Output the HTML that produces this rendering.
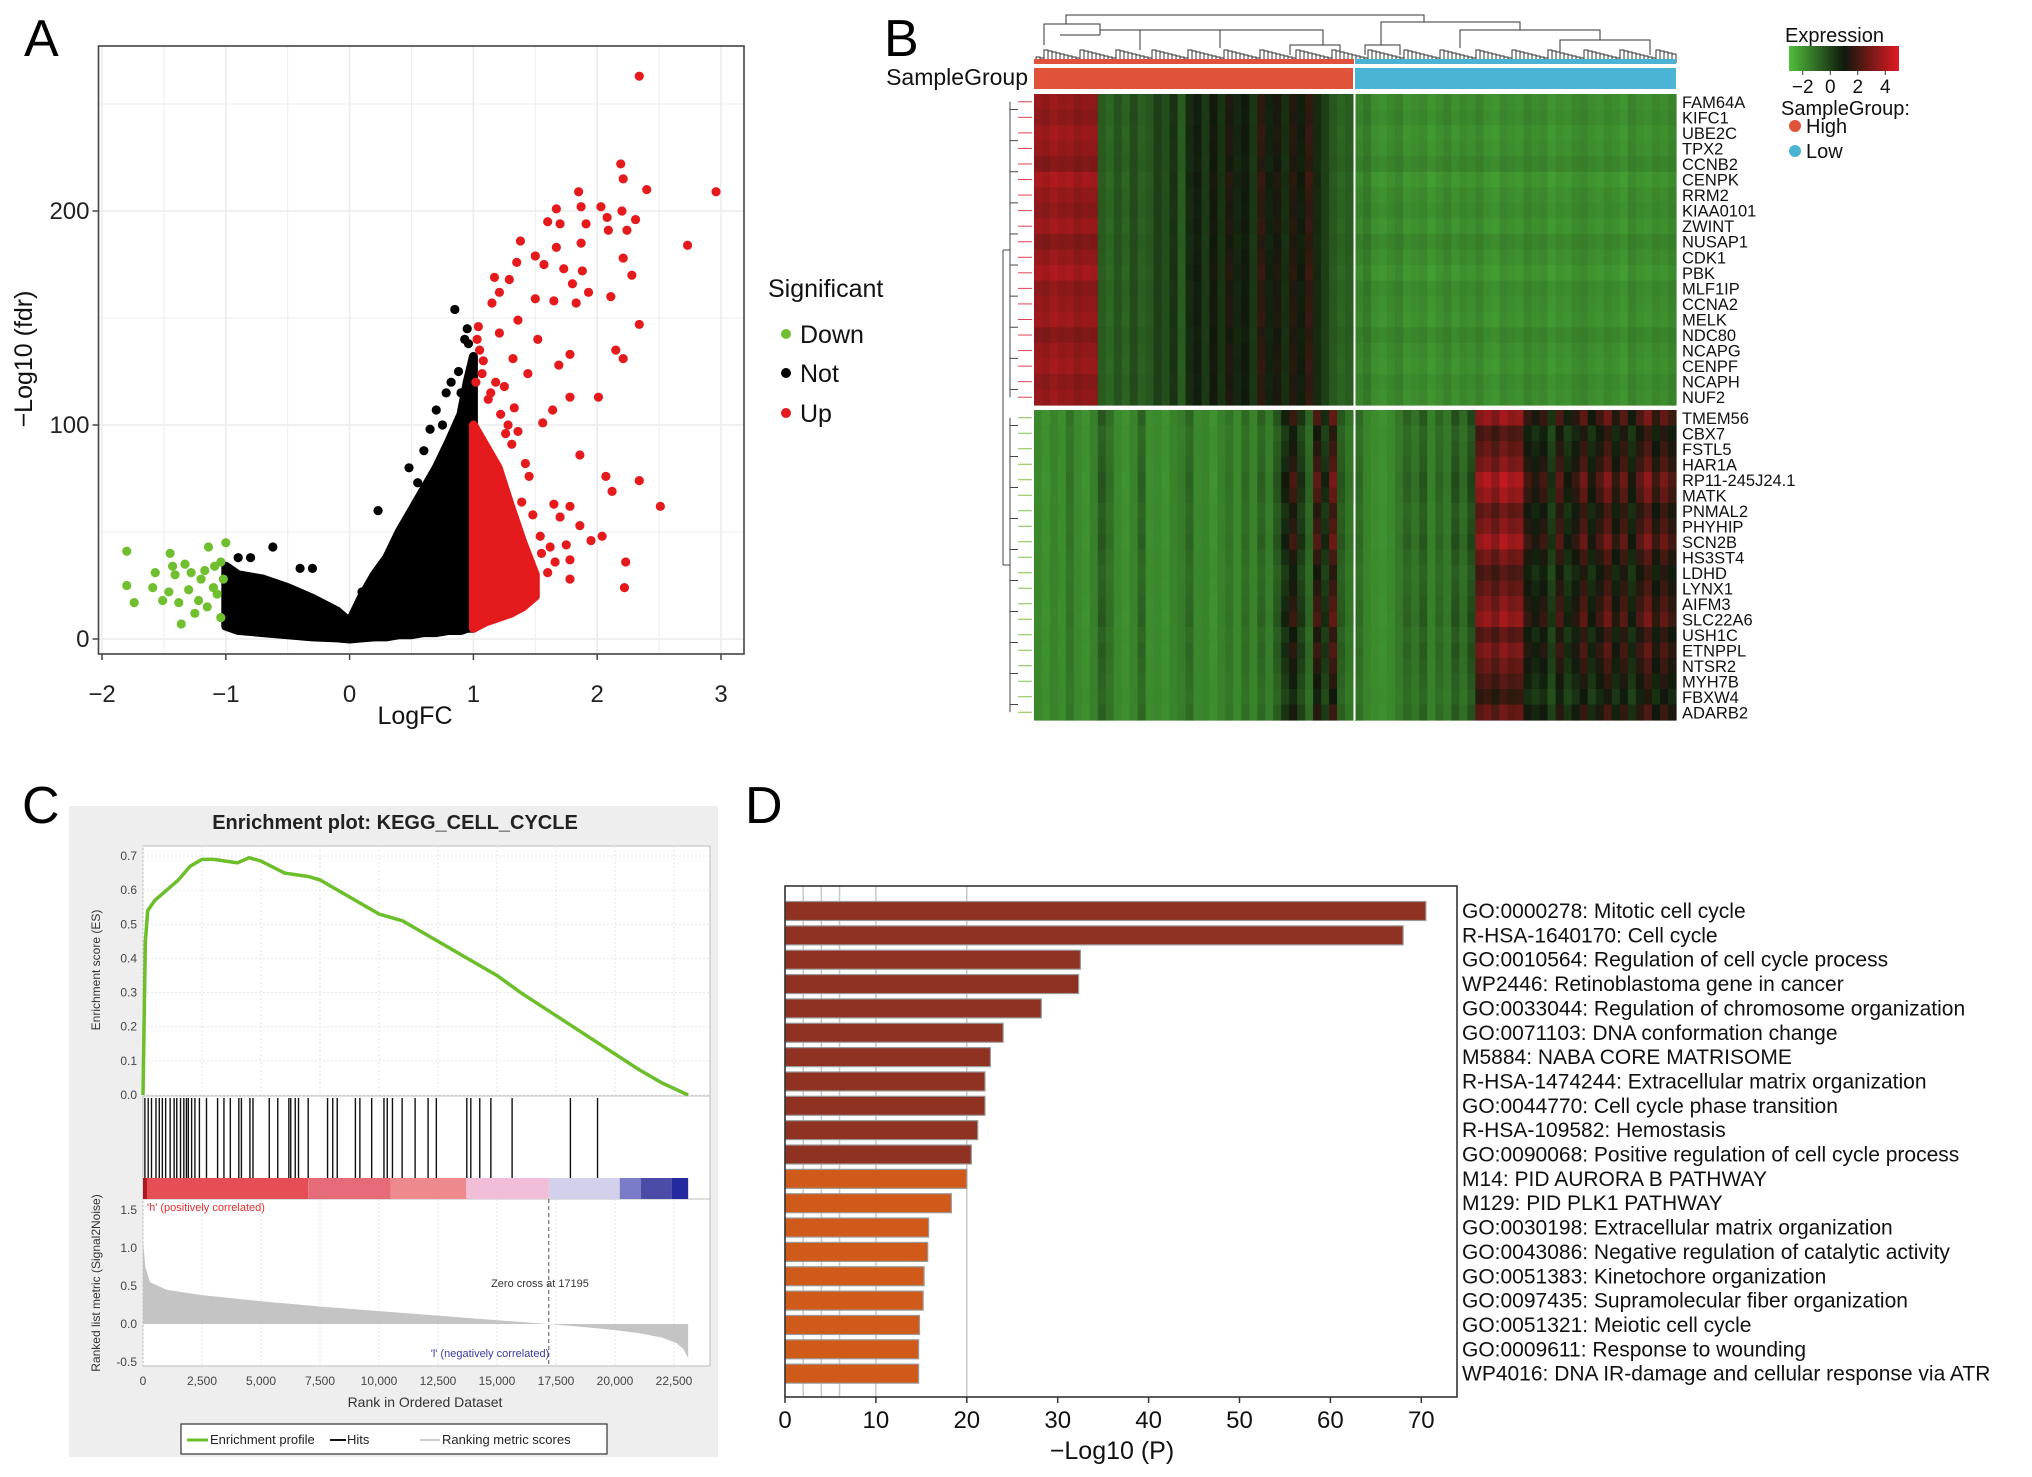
<!DOCTYPE html>
<html><head><meta charset="utf-8"><style>
html,body{margin:0;padding:0;background:#fff;}
svg{display:block;font-family:"Liberation Sans",sans-serif;}
</style></head><body>
<svg id="fig" width="2032" height="1477" viewBox="0 0 2032 1477" xmlns="http://www.w3.org/2000/svg">
<text x="24" y="56" font-size="52">A</text>
<text x="884" y="56" font-size="52">B</text>
<text x="22" y="823" font-size="52">C</text>
<text x="745" y="823" font-size="52">D</text>
<g id="pa"></g>
<g id="pb"></g>
<g id="pc"></g>
<g id="pd"></g>
</svg>
<script>
// ---------- Panel A data ----------
const volcXTicks = [-2,-1,0,1,2,3];
const volcYTicks = [0,100,200];
const notEnvX   = [-1.0,-0.9,-0.7,-0.5,-0.3,-0.1,0,0.1,0.2,0.3,0.4,0.5,0.6,0.7,0.8,0.9,0.95,1.0];
const notEnvTop = [34,30,28,24,19,13,8,20,30,38,50,60,70,80,92,105,120,132];
const notEnvBot = [6,4,3,2,1,0.5,0,0.5,1,1,2,2,3,3,4,4,5,5];
const notPtsX = [-0.62,0.85,0.93,0.96,0.23,0.48,0.55,0.65,0.70,0.78,0.88,0.90,-0.9,-0.8,-0.4,-0.3,0.1,0.6,0.75,0.82,0.95];
const notPtsY = [43,154,140,138,60,80,73,98,107,115,125,115,38,38,33,33,22,88,100,120,145];
const upEnvX   = [1.0,1.1,1.2,1.3,1.4,1.5];
const upEnvTop = [100,90,80,62,45,30];
const upEnvBot = [5,8,10,12,15,20];
const upPtsX = [2.34,2.19,2.21,2.40,2.96,1.85,1.67,1.87,2.03,2.20,2.08,2.31,1.60,1.70,1.91,2.09,2.24,2.73,1.38,1.87,1.67,1.50,2.21,1.35,1.57,1.73,1.88,2.28,1.17,1.29,1.80,1.93,2.11,1.21,1.50,1.65,1.15,1.83,2.34,1.36,1.04,1.52,1.21,2.15,2.21,1.78,1.69,1.32,1.44,1.07,2.01,1.78,1.64,1.56,1.36,1.86,2.07,2.12,2.34,2.51,1.65,1.78,1.70,1.86,1.95,2.04,1.62,1.75,2.23,1.78,1.66,1.60,1.78,2.22,1.10,1.47,1.40,1.54,1.39,1.45,1.31,1.25,1.12,1.05,1.18,1.42,1.28,1.48,1.55,1.33,1.03,1.08,1.14,1.02,1.22,1.26];
const upPtsY = [263,222,215,210,209,209,201,202,202,200,197,196,195,194,194,191,191,184,186,185,183,179,178,176,175,173,172,170,169,168,166,162,160,162,159,158,157,157,147,149,146,140,143,135,131,133,128,131,124,124,113,113,107,101,97,86,76,69,74,62,63,62,57,53,46,48,43,44,36,37,36,31,28,24,9,28,38,48,64,76,91,118,112,135,120,82,100,58,40,108,140,130,115,120,105,96];
const downPtsX = [-1.80,-1.80,-1.74,-1.59,-1.45,-1.51,-1.36,-1.25,-1.14,-1.00,-1.04,-1.41,-1.30,-1.20,-1.09,-1.46,-1.33,-1.22,-1.15,-1.07,-1.02,-1.38,-1.17,-1.28,-1.43,-1.57,-1.10,-1.04];
const downPtsY = [41,25,17,24,40,18,7,12,43,45,10,30,23,28,34,22,35,18,15,21,28,17,32,31,34,31,24,36];

// ---------- Panel B data ----------
const topGenes = ["FAM64A","KIFC1","UBE2C","TPX2","CCNB2","CENPK","RRM2","KIAA0101","ZWINT","NUSAP1","CDK1","PBK","MLF1IP","CCNA2","MELK","NDC80","NCAPG","CENPF","NCAPH","NUF2"];
const botGenes = ["TMEM56","CBX7","FSTL5","HAR1A","RP11-245J24.1","MATK","PNMAL2","PHYHIP","SCN2B","HS3ST4","LDHD","LYNX1","AIFM3","SLC22A6","USH1C","ETNPPL","NTSR2","MYH7B","FBXW4","ADARB2"];
const topRowFactor = [1.0,0.95,1.05,1.0,0.9,1.1,1.0,0.95,1.05,0.9,1.0,1.1,0.95,1.0,1.05,0.9,1.0,1.05,0.95,1.0];
const botRowFactor = [1.1,0.8,0.9,1.0,1.2,1.1,0.9,1.0,1.15,0.95,0.8,0.9,1.0,1.1,0.85,1.0,0.9,0.8,0.7,0.9];
const topHighProfile = [3.6,3.4,3.7,3.5,3.6,3.3,3.5,3.4,-0.6,-0.9,-0.4,-0.8,-0.2,-0.7,-0.5,0.1,-0.3,0.4,-0.6,0.6,0.9,0.2,1.1,0.4,1.3,0.7,1.0,0.3,1.6,0.8,1.2,0.5,1.4,0.9,1.7,0.6,0.1,-0.5,-0.8,-0.6];
const topLowProfile  = [-1.6,-1.3,-1.8,-1.9,-1.7,-1.5,-1.9,-1.8,-1.7,-2.0,-1.8,-1.6,-1.9,-1.7,-1.8,-1.6,-1.9,-2.0,-1.7,-1.8,-1.9,-1.6,-1.8,-1.7,-2.0,-1.8,-1.9,-1.7,-1.6,-1.8,-1.9,-1.7,-1.8,-2.0,-1.6,-1.8,-1.9,-1.7,-1.8,-1.6];
const botHighProfile = [-1.7,-1.9,-1.6,-1.8,-1.2,-1.7,-1.9,-1.5,-0.6,-1.1,-1.7,-1.9,-1.6,-0.8,-1.8,-1.7,-1.9,-1.6,-1.4,-0.9,-1.7,-1.6,-1.9,-1.5,-1.2,-1.7,-1.0,-1.6,-0.8,-1.4,-0.5,0.6,1.5,0.2,-0.9,1.8,0.4,2.2,-0.6,-1.2];
const botLowProfile  = [-1.0,-1.6,-1.8,-1.9,-1.7,-1.3,-0.8,-1.2,-0.6,-1.5,-0.9,-1.3,-0.4,-1.0,-0.2,2.8,3.2,2.6,3.4,2.9,3.1,1.4,0.9,1.4,0.2,1.8,0.6,1.2,2.1,0.8,1.6,2.4,1.1,2.0,0.7,1.8,2.6,1.3,2.2,1.5];
const exprTicks = [-2,0,2,4];

// ---------- Panel C data ----------
const esRank  = [0,100,200,500,1000,1500,2000,2500,3000,3500,4000,4500,5000,6000,7000,7500,8000,9000,10000,11000,12000,13000,14000,15000,16000,17000,18000,19000,20000,21000,22000,23100];
const esValue = [0,0.45,0.54,0.57,0.60,0.63,0.67,0.69,0.69,0.685,0.68,0.695,0.685,0.65,0.64,0.63,0.61,0.57,0.53,0.51,0.47,0.43,0.39,0.35,0.30,0.255,0.21,0.165,0.12,0.075,0.035,0];
const hitRanks = [80,220,360,550,690,820,960,1150,1320,1430,1590,1730,1840,1920,2060,2200,2390,2690,3160,3430,3700,4060,4170,4530,4660,5350,5710,6180,6260,6450,6590,7000,7820,8040,8230,9000,9190,9690,10210,10350,10570,10980,11530,12080,12430,13720,13890,14270,14740,15640,18110,19260];
const metricRank  = [0,100,300,1000,2500,5000,7500,10000,12500,15000,17195,19000,20000,21000,22000,22600,22900,23100];
const metricValue = [1.1,0.75,0.55,0.45,0.38,0.30,0.23,0.17,0.11,0.05,0,-0.05,-0.08,-0.12,-0.18,-0.25,-0.33,-0.45];
const rankTicks = [0,2500,5000,7500,10000,12500,15000,17500,20000,22500];
const esTicks = [0,0.1,0.2,0.3,0.4,0.5,0.6,0.7];
const metricTicks = [-0.5,0,0.5,1.0,1.5];

// ---------- Panel D data ----------
const termLabels = ["GO:0000278: Mitotic cell cycle","R-HSA-1640170: Cell cycle","GO:0010564: Regulation of cell cycle process","WP2446: Retinoblastoma gene in cancer","GO:0033044: Regulation of chromosome organization","GO:0071103: DNA conformation change","M5884: NABA CORE MATRISOME","R-HSA-1474244: Extracellular matrix organization","GO:0044770: Cell cycle phase transition","R-HSA-109582: Hemostasis","GO:0090068: Positive regulation of cell cycle process","M14: PID AURORA B PATHWAY","M129: PID PLK1 PATHWAY","GO:0030198: Extracellular matrix organization","GO:0043086: Negative regulation of catalytic activity","GO:0051383: Kinetochore organization","GO:0097435: Supramolecular fiber organization","GO:0051321: Meiotic cell cycle","GO:0009611: Response to wounding","WP4016: DNA IR-damage and cellular response via ATR"];
const termValues = [70.5,68.0,32.5,32.3,28.2,24.0,22.6,22.0,22.0,21.2,20.5,20.0,18.3,15.8,15.7,15.3,15.2,14.8,14.7,14.7];
const termGroup  = [0,0,0,0,0,0,0,0,0,0,0,1,1,1,1,1,1,1,1,1];
const pTicks = [0,10,20,30,40,50,60,70];

const NS="http://www.w3.org/2000/svg";
function mk(parent,tag,attrs,text){const e=document.createElementNS(NS,tag);for(const k in attrs)e.setAttribute(k,attrs[k]);if(text!==undefined)e.textContent=text;parent.appendChild(e);return e;}

// ================= Panel A =================
(function(){
const g=document.getElementById('pa');
const L=98.5,R=744,T=46,B=654;
const xs=v=>102+(v+2)*123.8, ys=v=>639-v*2.14;
mk(g,'rect',{x:L,y:T,width:R-L,height:B-T,fill:'#fff'});
for(let v=-2;v<=3.01;v+=0.5){mk(g,'line',{x1:xs(v),x2:xs(v),y1:T,y2:B,stroke:'#ececec','stroke-width':Math.abs(v%1)<0.01?1.6:1});}
for(let v=0;v<=250;v+=50){mk(g,'line',{x1:L,x2:R,y1:ys(v),y2:ys(v),stroke:'#ececec','stroke-width':v%100===0?1.6:1});}
let d='M'+xs(notEnvX[0])+','+ys(notEnvTop[0]);
for(let i=1;i<notEnvX.length;i++)d+=' L'+xs(notEnvX[i])+','+ys(notEnvTop[i]);
for(let i=notEnvX.length-1;i>=0;i--)d+=' L'+xs(notEnvX[i])+','+ys(notEnvBot[i]);
const nEnv=mk(g,'path',{d:d+'Z',fill:'#000',stroke:'#000','stroke-width':9,'stroke-linejoin':'round'});


notPtsX.forEach((x,i)=>{const c=mk(g,'circle',{cx:xs(x),cy:ys(notPtsY[i]),r:4.6,fill:'#000'});

});
d='M'+xs(upEnvX[0])+','+ys(upEnvTop[0]);
for(let i=1;i<upEnvX.length;i++)d+=' L'+xs(upEnvX[i])+','+ys(upEnvTop[i]);
for(let i=upEnvX.length-1;i>=0;i--)d+=' L'+xs(upEnvX[i])+','+ys(upEnvBot[i]);
const uEnv=mk(g,'path',{d:d+'Z',fill:'#e41a1c',stroke:'#e41a1c','stroke-width':9,'stroke-linejoin':'round'});


upPtsX.forEach((x,i)=>{const c=mk(g,'circle',{cx:xs(x),cy:ys(upPtsY[i]),r:4.6,fill:'#e41a1c'});

});
downPtsX.forEach((x,i)=>{const c=mk(g,'circle',{cx:xs(x),cy:ys(downPtsY[i]),r:4.6,fill:'#6fbf2f'});

});
mk(g,'rect',{x:L,y:T,width:R-L,height:B-T,fill:'none',stroke:'#444','stroke-width':1.6});
volcXTicks.forEach(v=>{mk(g,'line',{x1:xs(v),x2:xs(v),y1:B,y2:B+6,stroke:'#444','stroke-width':1.5});
const t=mk(g,'text',{x:xs(v),y:702,'font-size':24,'text-anchor':'middle',fill:'#222'},String(v).replace('-','\u2212'));

});
volcYTicks.forEach(v=>{mk(g,'line',{x1:L-6,x2:L,y1:ys(v),y2:ys(v),stroke:'#444','stroke-width':1.5});
const t=mk(g,'text',{x:L-9,y:ys(v)+8,'font-size':24,'text-anchor':'end',fill:'#222'},v);

});
const xt=mk(g,'text',{x:415,y:724,'font-size':25,'text-anchor':'middle',fill:'#111'},'LogFC');


const yt=mk(g,'text',{x:0,y:0,'font-size':25,'text-anchor':'middle',fill:'#111',transform:'translate(32,359) rotate(-90)'},'\u2212Log10 (fdr)');


const lt=mk(g,'text',{x:768,y:297,'font-size':25,fill:'#111'},'Significant');


[['Down','#6fbf2f',334],['Not','#000',373],['Up','#e41a1c',413]].forEach(a=>{
const le=mk(g,'g',{});


mk(le,'circle',{cx:786,cy:a[2],r:5,fill:a[1]});mk(le,'text',{x:800,y:a[2]+9,'font-size':25,fill:'#111'},a[0]);});
})();

// ================= Panel B =================
(function(){
const g=document.getElementById('pb');
const X0=1034,XM=1354,X1=1676;
const cols=40;
function col(v){v=Math.max(-3,Math.min(5,v));let c;
if(v<=1){const t=(v+3)/4;c=[80+(15-80)*t,190+(25-190)*t,60+(12-60)*t];}
else{const t=(v-1)/4;c=[15+(225-15)*t,25,12+(35-12)*t];}
return 'rgb('+c.map(Math.round).join(',')+')';}
function block(y0,y1,genes,factor,profL,profR,bottom){
const rh=(y1-y0)/genes.length;
genes.forEach((gn,r)=>{
const wl=(XM-1-X0)/cols, wr=(X1-XM-1)/cols;
profL.forEach((p,c)=>{const v=bottom?-1.6+(p+1.6)*factor[r]:p*factor[r];
const e=mk(g,'rect',{x:X0+c*wl,y:y0+r*rh,width:wl+0.6,height:rh+0.6,fill:col(v)});

});
profR.forEach((p,c)=>{const v=bottom?-1.6+(p+1.6)*factor[r]:p*factor[r];
const e=mk(g,'rect',{x:XM+1+c*wr,y:y0+r*rh,width:wr+0.6,height:rh+0.6,fill:col(v)});

});
const t=mk(g,'text',{x:1682,y:y0+r*rh+rh/2+6,'font-size':16.5,fill:'#111'},gn);


mk(g,'line',{x1:1018,x2:1032,y1:y0+r*rh+rh/2,y2:y0+r*rh+rh/2,stroke:bottom?'#7cc24a':'#e04050','stroke-width':1});
});
mk(g,'line',{x1:1010,x2:1010,y1:y0+rh/2,y2:y1-rh/2,stroke:'#444','stroke-width':1});
for(let i=0;i<genes.length;i+=2)mk(g,'line',{x1:1010,x2:1018,y1:y0+i*rh+rh,y2:y0+i*rh+rh,stroke:'#444','stroke-width':1});
}
block(94,405,topGenes,topRowFactor,topHighProfile,topLowProfile,false);
block(410,720,botGenes,botRowFactor,botHighProfile,botLowProfile,true);
mk(g,'line',{x1:1003,x2:1010,y1:250,y2:250,stroke:'#444'});mk(g,'line',{x1:1003,x2:1010,y1:565,y2:565,stroke:'#444'});
mk(g,'line',{x1:1003,x2:1003,y1:250,y2:565,stroke:'#444'});
mk(g,'line',{x1:1354.5,x2:1354.5,y1:94,y2:720,stroke:'#fff','stroke-width':2});
mk(g,'line',{x1:1034,x2:1676,y1:407.5,y2:407.5,stroke:'#fff','stroke-width':3});
const sh=mk(g,'rect',{x:X0,y:68,width:XM-X0-1,height:21,fill:'#e0533a'});


const sl=mk(g,'rect',{x:XM+1,y:68,width:X1-XM-1,height:21,fill:'#4bb3d3'});


const sgl=mk(g,'text',{x:1028,y:85,'font-size':23,'text-anchor':'end',fill:'#111'},'SampleGroup');


const dg=mk(g,'g',{stroke:'#333','stroke-width':1,fill:'none'});


mk(dg,'path',{d:'M1066,24 V15 H1424 V22'});
mk(dg,'path',{d:'M1044,45 V24 H1100 V35 M1100,35 H1060 M1100,35 V30 H1323 V45 M1140,30 V50 M1220,30 V48 M1323,45 H1290 V55 M1323,45 H1340 V55'});
mk(dg,'path',{d:'M1381,45 V22 H1520 V30 H1460 V48 M1520,30 H1600 V40 H1560 V52 M1600,40 H1650 V55 M1381,45 H1365 V55 M1381,45 H1400 V55'});
for(let x=1036;x<1676;x+=4){const h=(x*7)%9;mk(dg,'path',{d:'M'+x+','+(63)+' V'+(50+h)+' H'+(x+4)+' V63'});}
mk(g,'rect',{x:X0,y:59,width:XM-X0,height:5,fill:'#e0533a'});
mk(g,'rect',{x:XM+1,y:59,width:X1-XM-1,height:5,fill:'#4bb3d3'});
const et=mk(g,'text',{x:1785,y:42,'font-size':20,fill:'#111'},'Expression');


const defs=mk(g,'defs',{});const lg=mk(defs,'linearGradient',{id:'exg',x1:0,x2:1,y1:0,y2:0});
[[0,col(-3)],[0.5,col(1)],[1,col(5)]].forEach(s=>mk(lg,'stop',{offset:s[0],'stop-color':s[1]}));
const eb=mk(g,'rect',{x:1789,y:46,width:110,height:25,fill:'url(#exg)'});


exprTicks.forEach(v=>{const x=1789+(v+3)/8*110;mk(g,'line',{x1:x,x2:x,y1:71,y2:75,stroke:'#333'});
const t=mk(g,'text',{x:x,y:93,'font-size':19,'text-anchor':'middle',fill:'#111'},String(v).replace('-','\u2212'));

});
const sg=mk(g,'text',{x:1781,y:115,'font-size':20,fill:'#111'},'SampleGroup:');


[['High','#e0533a',126],['Low','#4bb3d3',151]].forEach(a=>{const le=mk(g,'g',{});


mk(le,'circle',{cx:1795,cy:a[2],r:6,fill:a[1]});mk(le,'text',{x:1806,y:a[2]+7,'font-size':20,fill:'#111'},a[0]);});
})();

// ================= Panel C =================
(function(){
const g=document.getElementById('pc');
const bg=mk(g,'rect',{x:69,y:806,width:649,height:651,fill:'#eeeeee'});


const tt=mk(g,'text',{x:395,y:829,'font-size':20,'font-weight':'bold','text-anchor':'middle',fill:'#222'},'Enrichment plot: KEGG_CELL_CYCLE');


const L=143,R=710;
const xs=r=>143+r/22500*(674-143);
const ye=v=>1095-v/0.7*239;
const ym=v=>1324-v/1.5*114;
mk(g,'rect',{x:L,y:846,width:R-L,height:520,fill:'#fff',stroke:'#bbb'});
rankTicks.forEach(r=>{mk(g,'line',{x1:xs(r),x2:xs(r),y1:846,y2:1096,stroke:'#e6e6e6','stroke-dasharray':'2,2'});
mk(g,'line',{x1:xs(r),x2:xs(r),y1:1199,y2:1366,stroke:'#e6e6e6','stroke-dasharray':'2,2'});
const t=mk(g,'text',{x:xs(r),y:1385,'font-size':12,'text-anchor':'middle',fill:'#444'},r.toLocaleString('en-US'));

});
esTicks.forEach(v=>{mk(g,'line',{x1:L,x2:R,y1:ye(v),y2:ye(v),stroke:'#e6e6e6','stroke-dasharray':'2,2'});
const t=mk(g,'text',{x:L-6,y:ye(v)+4,'font-size':12,'text-anchor':'end',fill:'#444'},v.toFixed(1));

});
metricTicks.forEach(v=>{const t=mk(g,'text',{x:L-6,y:ym(v)+4,'font-size':12,'text-anchor':'end',fill:'#444'},v.toFixed(1));

});
mk(g,'line',{x1:L,x2:R,y1:1096,y2:1096,stroke:'#bbb'});
mk(g,'line',{x1:L,x2:R,y1:1199,y2:1199,stroke:'#bbb'});
const es=mk(g,'polyline',{points:esRank.map((r,i)=>xs(r)+','+ye(esValue[i])).join(' '),fill:'none',stroke:'#6cbf2a','stroke-width':3.5});


hitRanks.forEach(r=>{const l=mk(g,'line',{x1:xs(r),x2:xs(r),y1:1098,y2:1178,stroke:'#111','stroke-width':1.4});

});
[[0,7000,'#e44e54'],[7000,10500,'#e56b78'],[10500,13700,'#ee8a8e'],[13700,17200,'#f2bdd6'],[17200,20200,'#d3d0ec'],[20200,21100,'#7a7cc8'],[21100,22400,'#4a4ca8'],[22400,23100,'#25299e']].forEach(s=>{
mk(g,'rect',{x:xs(s[0]),y:1178,width:xs(s[1])-xs(s[0]),height:21,fill:s[2]});});
mk(g,'rect',{x:xs(0),y:1178,width:4,height:21,fill:'#b01820'});
let d='M'+xs(metricRank[0])+','+ym(0);
metricRank.forEach((r,i)=>d+=' L'+xs(r)+','+ym(metricValue[i]));
d+=' L'+xs(metricRank[metricRank.length-1])+','+ym(0)+'Z';
const ma=mk(g,'path',{d:d,fill:'#c4c4c4'});


mk(g,'line',{x1:xs(17195),x2:xs(17195),y1:1199,y2:1366,stroke:'#555','stroke-dasharray':'4,3'});
mk(g,'text',{x:540,y:1287,'font-size':11,'text-anchor':'middle',fill:'#333'},'Zero cross at 17195');
mk(g,'text',{x:147,y:1211,'font-size':11,fill:'#e03030'},"'h' (positively correlated)");
mk(g,'text',{x:490,y:1357,'font-size':11,'text-anchor':'middle',fill:'#3a3aa0'},"'l' (negatively correlated)");
mk(g,'text',{x:0,y:0,'font-size':12,'text-anchor':'middle',fill:'#333',transform:'translate(100,970) rotate(-90)'},'Enrichment score (ES)');
mk(g,'text',{x:0,y:0,'font-size':12,'text-anchor':'middle',fill:'#333',transform:'translate(100,1283) rotate(-90)'},'Ranked list metric (Signal2Noise)');
const xt=mk(g,'text',{x:425,y:1407,'font-size':14,'text-anchor':'middle',fill:'#333'},'Rank in Ordered Dataset');


const lb=mk(g,'g',{});


mk(lb,'rect',{x:181,y:1424,width:426,height:30,fill:'#fff',stroke:'#333','stroke-width':1.2});
mk(lb,'line',{x1:187,x2:208,y1:1440,y2:1440,stroke:'#6cbf2a','stroke-width':3});
mk(lb,'text',{x:210,y:1444,'font-size':13,fill:'#222'},'Enrichment profile');
mk(lb,'line',{x1:330,x2:346,y1:1440,y2:1440,stroke:'#111','stroke-width':2});
mk(lb,'text',{x:347,y:1444,'font-size':13,fill:'#222'},'Hits');
mk(lb,'line',{x1:420,x2:440,y1:1440,y2:1440,stroke:'#bbb','stroke-width':1.5});
mk(lb,'text',{x:442,y:1444,'font-size':13,fill:'#222'},'Ranking metric scores');
})();

// ================= Panel D =================
(function(){
const g=document.getElementById('pd');
const L=785,R=1457,T=886,B=1397;
const xs=v=>785+v*9.09;
const yc=i=>911+i*24.35;
mk(g,'rect',{x:L,y:T,width:R-L,height:B-T,fill:'#fff'});
[2,4,6,10,20].forEach(v=>mk(g,'line',{x1:xs(v),x2:xs(v),y1:T,y2:B,stroke:'#c8c8c8','stroke-width':1.5}));
termValues.forEach((v,i)=>{const b=mk(g,'rect',{x:L,y:yc(i)-9.5,width:xs(v)-L,height:19,fill:termGroup[i]?'#cf5a19':'#8f3222',stroke:'#9a9a9a','stroke-width':1.2});


const t=mk(g,'text',{x:1462,y:yc(i)+7,'font-size':21,fill:'#111'},termLabels[i]);

});
mk(g,'rect',{x:L,y:T,width:R-L,height:B-T,fill:'none',stroke:'#333','stroke-width':1.6});
pTicks.forEach(v=>{mk(g,'line',{x1:xs(v),x2:xs(v),y1:B,y2:B+6,stroke:'#333','stroke-width':1.5});
const t=mk(g,'text',{x:xs(v),y:1428,'font-size':24,'text-anchor':'middle',fill:'#111'},v);

});
const xt=mk(g,'text',{x:1112,y:1459,'font-size':25,'text-anchor':'middle',fill:'#111'},'\u2212Log10 (P)');


})();
</script>
</body></html>
